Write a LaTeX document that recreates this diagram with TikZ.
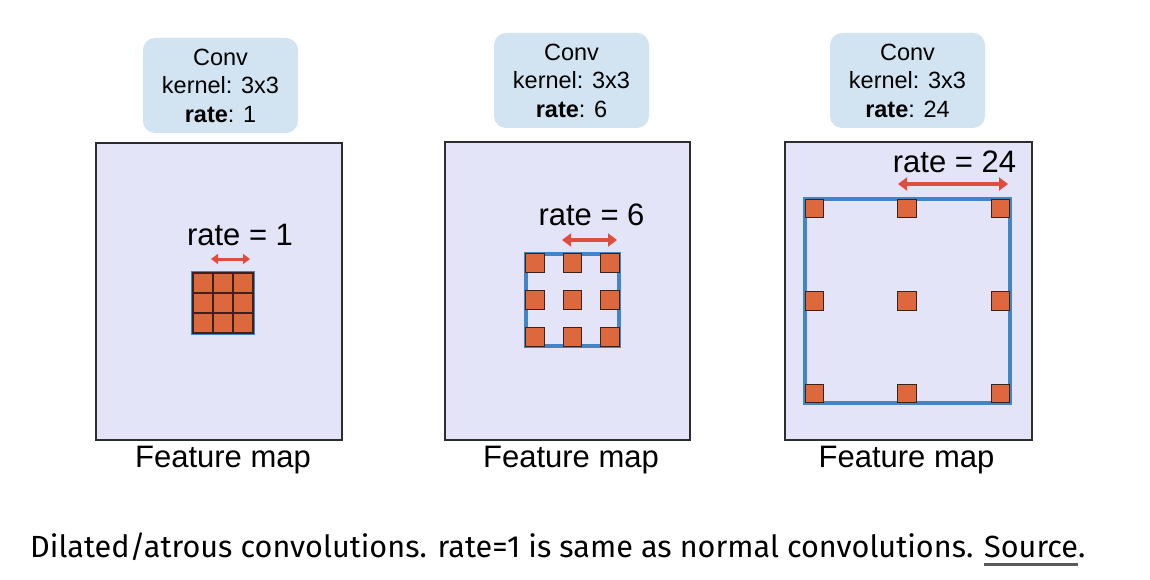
\documentclass[tikz,border=0pt]{standalone}
\usepackage{fontspec}
\setmainfont{Liberation Sans}
\newfontfamily\capfont{Fira Sans}
\usetikzlibrary{arrows.meta}
\definecolor{fmfill}{RGB}{228,228,249}
\definecolor{fmdraw}{RGB}{45,45,45}
\definecolor{convfill}{RGB}{210,228,242}
\definecolor{cellfill}{RGB}{222,104,62}
\definecolor{cellline}{RGB}{60,35,25}
\definecolor{kblue}{RGB}{66,133,198}
\definecolor{arrred}{RGB}{222,78,60}
\definecolor{ulgray}{RGB}{90,90,90}
\newcommand\grayul[1]{\setbox0\hbox{#1}\rlap{\color{ulgray}\rule[-8.8pt]{\wd0}{2.5pt}}\box0}
\tikzset{
  fmap/.style={draw=fmdraw, fill=fmfill, line width=2.6pt, inner sep=0pt},
  convbox/.style={fill=convfill, rounded corners=12pt, inner sep=0pt, align=center,
    minimum width=155pt, minimum height=95pt, font=\fontsize{23.5}{28.5}\selectfont},
  fmlabel/.style={inner sep=0pt, font=\fontsize{31}{36}\selectfont},
  ratelabel/.style={inner sep=0pt, font=\fontsize{31}{36}\selectfont},
  kernelrect/.style={draw=kblue, line width=3.5pt, inner sep=0pt},
  cell/.style={draw=cellline, fill=cellfill, line width=1.2pt, inner sep=0pt, minimum size=18.5pt},
  gridcell/.style={draw=cellline, fill=cellfill, line width=1.3pt, inner sep=0pt, minimum size=20pt},
  ratearrow/.style={draw=arrred, line width=4pt, {Triangle[length=9pt,width=13pt]}-{Triangle[length=9pt,width=13pt]}},
}
\begin{document}
\begin{tikzpicture}[x=1pt,y=-1pt]
\useasboundingbox (0,0) rectangle (1150,580);
\fill[white] (0,0) rectangle (1150,580);

% ---------- panel 1 ----------
\node[convbox] (c1) at (220.5,85.5) {Conv\\kernel: 3x3\\\textbf{rate}: 1};
\node[fmap, minimum width=246pt, minimum height=297pt] (fm1) at (219,291.5) {};
\node[ratelabel, anchor=base] (r1) at (240,245) {rate = 1};
\coordinate (a1l) at (211,259);
\coordinate (a1r) at (250,259);
\draw[ratearrow, line width=3pt, {Triangle[length=7pt,width=10pt]}-{Triangle[length=7pt,width=10pt]}] (a1l) -- (a1r);
\node[kernelrect, minimum size=61pt] (k1) at (223,303) {};
\foreach \i in {1,2,3}{
  \foreach \j in {1,2,3}{
    \node[gridcell] (g1-\i-\j) at ({193+20*\i-10},{273+20*\j-10}) {};
  }
}

% ---------- panel 2 ----------
\node[convbox] (c2) at (571.5,80.5) {Conv\\kernel: 3x3\\\textbf{rate}: 6};
\node[fmap, minimum width=245pt, minimum height=298pt] (fm2) at (567.5,291) {};
\node[ratelabel, anchor=base] (r2) at (591.5,225) {rate = 6};
\coordinate (a2l) at (562,240);
\coordinate (a2r) at (617,240);
\draw[ratearrow] (a2l) -- (a2r);
\node[kernelrect, minimum width=93pt, minimum height=92pt] (k2) at (572.5,300) {};
\foreach \i/\x in {1/535,2/572.5,3/610}{
  \foreach \j/\y in {1/263,2/300,3/337}{
    \node[cell] (s2-\i-\j) at (\x,\y) {};
  }
}

% ---------- panel 3 ----------
\node[convbox] (c3) at (907.5,80.5) {Conv\\kernel: 3x3\\\textbf{rate}: 24};
\node[fmap, minimum width=247pt, minimum height=298pt] (fm3) at (908.5,291) {};
\node[ratelabel, anchor=base] (r3) at (954.5,172) {rate = 24};
\coordinate (a3l) at (898,184);
\coordinate (a3r) at (1008,184);
\draw[ratearrow] (a3l) -- (a3r);
\node[kernelrect, minimum width=205pt, minimum height=204pt] (k3) at (907.5,301) {};
\foreach \i/\x in {1/814.5,2/907,3/1000.5}{
  \foreach \j/\y in {1/208.5,2/301,3/393.5}{
    \node[cell] (s3-\i-\j) at (\x,\y) {};
  }
}

% ---------- feature map labels ----------
\node[fmlabel, anchor=base] (f1) at (223,467) {Feature map};
\node[fmlabel, anchor=base] (f2) at (571,467) {Feature map};
\node[fmlabel, anchor=base] (f3) at (906.5,467) {Feature map};

% ---------- caption ----------
\node[anchor=base west, inner sep=0pt, font=\capfont\fontsize{30.6}{36}\selectfont] (cap) at (30,557)
  {Dilated/atrous convolutions. rate=1 is same as normal convolutions. \grayul{Source}.};
\end{tikzpicture}
\end{document}
